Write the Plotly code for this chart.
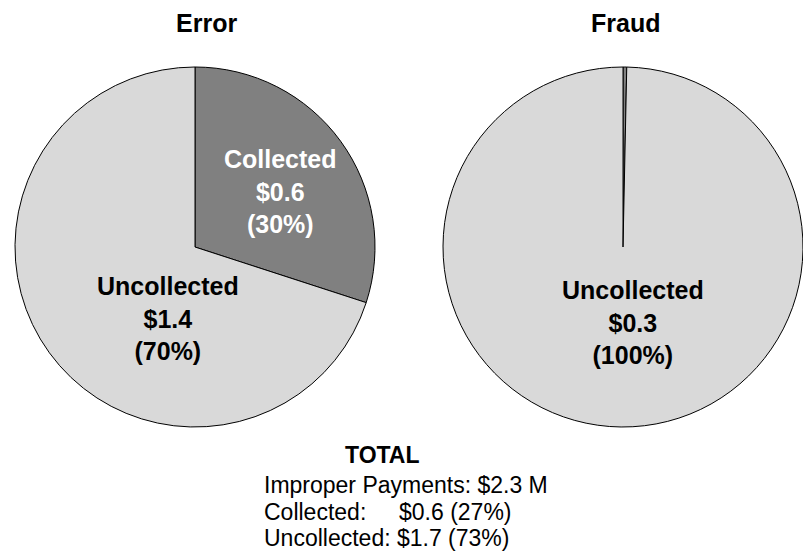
import plotly.graph_objects as go

# ---- data ----
pie_titles = ["Error", "Fraud"]
slice_labels = ["Collected", "Uncollected"]
error_values = [0.6, 1.4]
fraud_values = [0.001, 0.3]
error_pct = ["30%", "70%"]
fraud_pct = ["0%", "100%"]
slice_colors = ["#808080", "#d9d9d9"]

total_title = "TOTAL"
total_lines = ["Improper Payments: $2.3 M", "Collected:", "Uncollected: $1.7 (73%)"]
total_collected_value = "$0.6 (27%)"

W, H = 803, 553
FONT = "Arial, 'Liberation Sans', sans-serif"


def px(x):
    return x / W


def py(y):
    return 1 - y / H


R = 180
cy = 247
fig = go.Figure()
fig.add_trace(go.Pie(
    labels=slice_labels, values=error_values, sort=False, direction="clockwise",
    rotation=0, textinfo="none", hoverinfo="label+value",
    marker=dict(colors=slice_colors, line=dict(color="black", width=1)),
    domain=dict(x=[px(195 - R), px(195 + R)], y=[py(cy + R), py(cy - R)]),
    showlegend=False,
))
fig.add_trace(go.Pie(
    labels=slice_labels, values=fraud_values, sort=False, direction="clockwise",
    rotation=0, textinfo="none", hoverinfo="label+value",
    marker=dict(colors=slice_colors, line=dict(color="black", width=1)),
    domain=dict(x=[px(W - 2 * R), 1], y=[py(cy + R), py(cy - R)]),
    showlegend=False,
))

ann = []
# titles
for t, x in zip(pie_titles, [206, 625]):
    ann.append(dict(text=f"<b>{t}</b>", x=px(x), y=py(23), xref="paper", yref="paper",
                    showarrow=False, xanchor="center", yanchor="middle",
                    font=dict(family=FONT, size=25, color="black")))


def lbl(name, val, pct):
    return f"<b>{name}<br>${val:.1f}<br>({pct})</b>"


ann.append(dict(text=lbl(slice_labels[0], error_values[0], error_pct[0]), x=px(280), y=py(191),
                xref="paper", yref="paper", showarrow=False, xanchor="center", yanchor="middle",
                font=dict(family=FONT, size=25, color="white")))
ann.append(dict(text=lbl(slice_labels[1], error_values[1], error_pct[1]), x=px(168), y=py(318),
                xref="paper", yref="paper", showarrow=False, xanchor="center", yanchor="middle",
                font=dict(family=FONT, size=25, color="black")))
ann.append(dict(text=lbl(slice_labels[1], fraud_values[1], fraud_pct[1]), x=px(633), y=py(322),
                xref="paper", yref="paper", showarrow=False, xanchor="center", yanchor="middle",
                font=dict(family=FONT, size=25, color="black")))

# total block
ann.append(dict(text=f"<b>{total_title}</b>", x=px(382), y=py(455), xref="paper", yref="paper",
                showarrow=False, xanchor="center", yanchor="middle",
                font=dict(family=FONT, size=23, color="black")))
for line, y in zip(total_lines, [485, 512, 538]):
    ann.append(dict(text=line, x=px(262), y=py(y), xref="paper", yref="paper",
                    showarrow=False, xanchor="left", yanchor="middle",
                    font=dict(family=FONT, size=23, color="black")))
ann.append(dict(text=total_collected_value, x=px(397), y=py(512), xref="paper", yref="paper",
                showarrow=False, xanchor="left", yanchor="middle",
                font=dict(family=FONT, size=23, color="black")))

fig.update_layout(
    width=W, height=H, margin=dict(l=0, r=0, t=0, b=0),
    paper_bgcolor="white", plot_bgcolor="white",
    annotations=ann,
)

fig.write_html("out.html", config={"displayModeBar": False},
               post_script="document.body.style.margin='0';document.body.style.overflow='hidden';")
